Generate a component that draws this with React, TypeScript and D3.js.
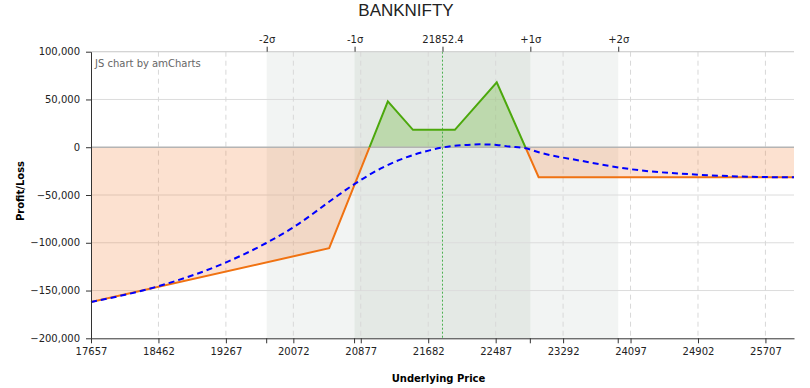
import React, { useEffect, useRef } from 'react';
import * as d3 from 'd3';

// payoff at expiry (strike kinks)
const payoffPrices = [17657, 20500, 21200, 21500, 22000, 22500, 23000, 26048];
const payoffValues = [-162000, -105700, 48000, 18200, 18200, 68000, -31400, -31400];

// expected P/L today (dashed blue)
const expPrices = [17657, 18460, 19270, 19744, 20069, 20586, 20805, 21143, 21499, 21698, 21857, 22100, 22295, 22500, 22653, 22831, 23010, 23526, 24083, 24917, 25712, 26048];
const expValues = [-162000, -145500, -120500, -100500, -84000, -51600, -38400, -21000, -8200, -3300, -200, 2200, 3000, 2400, 700, -800, -5500, -14500, -22800, -28800, -31200, -31500];

const xTicks = [17657, 18462, 19267, 20072, 20877, 21682, 22487, 23292, 24097, 24902, 25707];
const yTicks = [-200000, -150000, -100000, -50000, 0, 50000, 100000];

const sigmaPrices = [19754, 20803, 21852.4, 22901, 23950];
const sigmaLabels = ['-2σ', '-1σ', '21852.4', '+1σ', '+2σ'];
const spot = 21852.4;

const FONT = '"DejaVu Sans", Verdana, sans-serif';

const PayoffChart = () => {
  const svgRef = useRef<SVGSVGElement>(null);

  useEffect(() => {
    const svg = d3.select(svgRef.current);
    svg.selectAll('*').remove();

    const width = 810;
    const height = 388;
    const margin = { top: 51.7, right: 16, bottom: 49.7, left: 91 };

    svg.attr('width', width).attr('height', height);
    svg.append('rect').attr('width', width).attr('height', height).attr('fill', '#fff');

    const x = d3.scaleLinear().domain([17657, 26048]).range([margin.left, width - margin.right]);
    const y = d3.scaleLinear().domain([-200000, 100000]).range([height - margin.bottom, margin.top]);

    const top = y(100000);
    const bottom = y(-200000);
    const zeroY = y(0);

    // sigma bands
    svg.append('rect')
      .attr('x', x(sigmaPrices[0])).attr('y', top)
      .attr('width', x(sigmaPrices[4]) - x(sigmaPrices[0])).attr('height', bottom - top)
      .attr('fill', '#f2f4f3');
    svg.append('rect')
      .attr('x', x(sigmaPrices[1])).attr('y', top)
      .attr('width', x(sigmaPrices[3]) - x(sigmaPrices[1])).attr('height', bottom - top)
      .attr('fill', '#e4e9e5');

    // grid
    svg.append('g').selectAll('line')
      .data(yTicks.filter(d => d !== 0 && d !== -200000))
      .enter().append('line')
      .attr('x1', x.range()[0]).attr('x2', x.range()[1])
      .attr('y1', d => y(d)).attr('y2', d => y(d))
      .attr('stroke', '#dcdcdc').attr('stroke-width', 1);

    svg.append('g').selectAll('line')
      .data(xTicks.slice(1))
      .enter().append('line')
      .attr('x1', d => x(d)).attr('x2', d => x(d))
      .attr('y1', top).attr('y2', bottom)
      .attr('stroke', '#d8d8d8').attr('stroke-dasharray', '5,4');

    // clip regions above / below zero
    const defs = svg.append('defs');
    defs.append('clipPath').attr('id', 'clip-pos').append('rect')
      .attr('x', x.range()[0]).attr('y', top - 5)
      .attr('width', x.range()[1] - x.range()[0]).attr('height', zeroY - top + 5);
    defs.append('clipPath').attr('id', 'clip-neg').append('rect')
      .attr('x', x.range()[0]).attr('y', zeroY)
      .attr('width', x.range()[1] - x.range()[0]).attr('height', bottom - zeroY + 5);

    const payoff = payoffPrices.map((p, i) => ({ p, v: payoffValues[i] }));

    const area = d3.area<{ p: number; v: number }>()
      .x(d => x(d.p)).y0(zeroY).y1(d => y(d.v));
    const line = d3.line<{ p: number; v: number }>()
      .x(d => x(d.p)).y(d => y(d.v));

    svg.append('path').datum(payoff).attr('d', area)
      .attr('clip-path', 'url(#clip-neg)')
      .attr('fill', 'rgb(240,120,40)').attr('fill-opacity', 0.22);
    svg.append('path').datum(payoff).attr('d', area)
      .attr('clip-path', 'url(#clip-pos)')
      .attr('fill', 'rgb(90,175,30)').attr('fill-opacity', 0.28);

    // zero line
    svg.append('line')
      .attr('x1', x.range()[0]).attr('x2', x.range()[1])
      .attr('y1', zeroY).attr('y2', zeroY)
      .attr('stroke', '#b4b4b4').attr('stroke-width', 1.5);

    // spot line
    svg.append('line')
      .attr('x1', x(spot)).attr('x2', x(spot))
      .attr('y1', top).attr('y2', bottom)
      .attr('stroke', '#4cb050').attr('stroke-width', 1)
      .attr('stroke-dasharray', '2,2');

    svg.append('path').datum(payoff).attr('d', line)
      .attr('clip-path', 'url(#clip-neg)')
      .attr('fill', 'none').attr('stroke', '#f07212').attr('stroke-width', 2);
    svg.append('path').datum(payoff).attr('d', line)
      .attr('clip-path', 'url(#clip-pos)')
      .attr('fill', 'none').attr('stroke', '#4ca80c').attr('stroke-width', 2);

    // expected curve
    const expected = expPrices.map((p, i) => ({ p, v: expValues[i] }));
    svg.append('path').datum(expected)
      .attr('d', d3.line<{ p: number; v: number }>().x(d => x(d.p)).y(d => y(d.v)).curve(d3.curveMonotoneX))
      .attr('fill', 'none').attr('stroke', '#0000ff').attr('stroke-width', 2)
      .attr('stroke-dasharray', '6,4');

    // top border
    svg.append('line')
      .attr('x1', x.range()[0]).attr('x2', x.range()[1])
      .attr('y1', top).attr('y2', top)
      .attr('stroke', '#d0d0d0');

    // axes
    const yAxis = svg.append('g')
      .attr('transform', `translate(${margin.left},0)`)
      .call(d3.axisLeft(y).tickValues(yTicks).tickFormat(d3.format(',')).tickSize(5).tickSizeOuter(0));
    yAxis.select('.domain').attr('stroke', '#333');
    yAxis.selectAll('.tick line').attr('stroke', '#333');
    yAxis.selectAll('text').attr('font-family', FONT).attr('font-size', 10).attr('fill', '#222').attr('x', -11);

    const xAxis = svg.append('g')
      .attr('transform', `translate(0,${bottom})`)
      .call(d3.axisBottom(x).tickValues(xTicks).tickFormat(d3.format('d')).tickSize(5).tickSizeOuter(0));
    xAxis.select('.domain').attr('stroke', '#333');
    xAxis.selectAll('.tick line').attr('stroke', '#333');
    xAxis.selectAll('text').attr('font-family', FONT).attr('font-size', 10).attr('fill', '#222').attr('y', 10);

    // sigma ticks on bottom axis
    svg.append('g').selectAll('line')
      .data(sigmaPrices.filter(d => d !== spot))
      .enter().append('line')
      .attr('x1', d => x(d)).attr('x2', d => x(d))
      .attr('y1', bottom).attr('y2', bottom + 5)
      .attr('stroke', '#333');

    // top sigma axis
    const sAxis = svg.append('g')
      .attr('transform', `translate(0,${top})`)
      .call(d3.axisTop(x).tickValues(sigmaPrices).tickFormat((d, i) => sigmaLabels[i]).tickSize(5).tickSizeOuter(0));
    sAxis.select('.domain').remove();
    sAxis.selectAll('.tick line').attr('stroke', '#333');
    sAxis.selectAll('text').attr('font-family', FONT).attr('font-size', 10).attr('fill', '#222').attr('y', -9);

    // titles
    svg.append('text')
      .attr('x', 406).attr('y', 16)
      .attr('text-anchor', 'middle')
      .style('font-family', '"Liberation Sans", Arial, sans-serif')
      .attr('font-size', 17)
      .attr('fill', '#222')
      .text('BANKNIFTY');

    svg.append('text')
      .attr('x', (x.range()[0] + x.range()[1]) / 2 - 4).attr('y', 382)
      .attr('text-anchor', 'middle')
      .style('font-family', FONT)
      .attr('font-size', 10).attr('font-weight', 'bold')
      .attr('fill', '#000')
      .text('Underlying Price');

    svg.append('text')
      .attr('transform', `translate(24,${(top + bottom) / 2 - 4}) rotate(-90)`)
      .attr('text-anchor', 'middle')
      .style('font-family', FONT)
      .attr('font-size', 10).attr('font-weight', 'bold')
      .attr('fill', '#000')
      .text('Profit/Loss');

    svg.append('text')
      .attr('x', 95).attr('y', 67)
      .style('font-family', FONT)
      .attr('font-size', 10)
      .attr('fill', '#666')
      .text('JS chart by amCharts');
  }, []);

  return <svg ref={svgRef} style={{ position: 'absolute', left: 0, top: 0, display: 'block' }}></svg>;
};

export default function App() {
  return <PayoffChart />;
}
